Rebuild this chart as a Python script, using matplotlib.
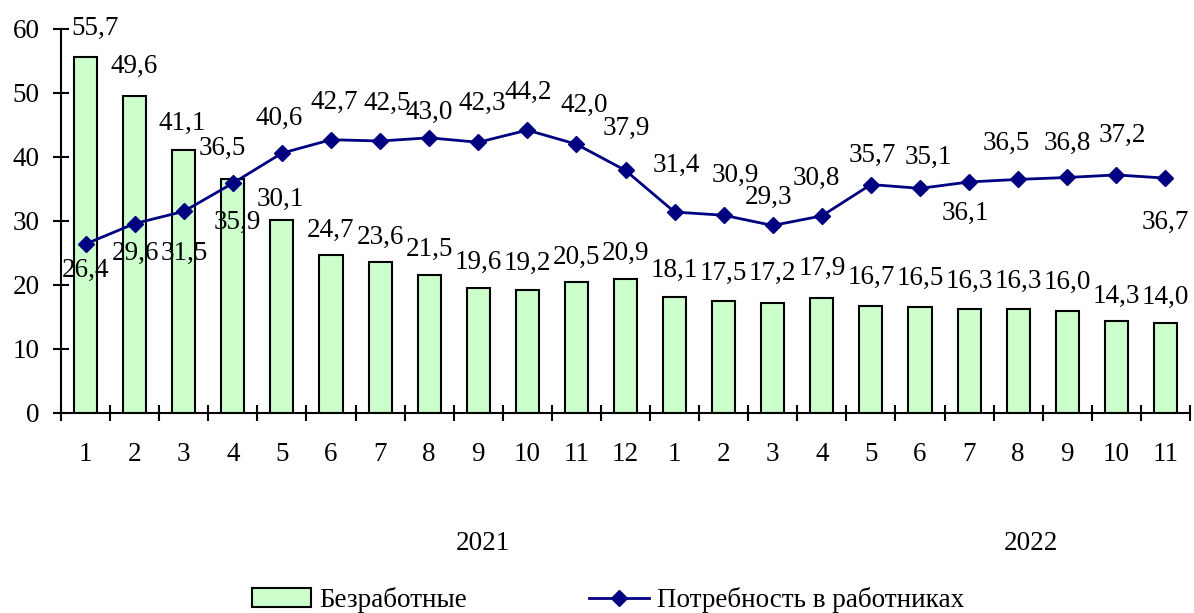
import numpy as np
import matplotlib
matplotlib.use('Agg')
import matplotlib.pyplot as plt
from matplotlib.ticker import FixedLocator, NullFormatter

plt.rcParams['font.family'] = ['Liberation Serif', 'DejaVu Serif']

# data
months = ['1', '2', '3', '4', '5', '6', '7', '8', '9', '10', '11', '12',
          '1', '2', '3', '4', '5', '6', '7', '8', '9', '10', '11']
years = ['2021', '2022']
unemployed = [55.7, 49.6, 41.1, 36.5, 30.1, 24.7, 23.6, 21.5, 19.6, 19.2, 20.5, 20.9,
              18.1, 17.5, 17.2, 17.9, 16.7, 16.5, 16.3, 16.3, 16.0, 14.3, 14.0]
demand = [26.4, 29.6, 31.5, 35.9, 40.6, 42.7, 42.5, 43.0, 42.3, 44.2, 42.0, 37.9,
          31.4, 30.9, 29.3, 30.8, 35.7, 35.1, 36.1, 36.5, 36.8, 37.2, 36.7]
series_names = ['Безработные', 'Потребность в работниках']

# label placement tweaks (pixels, x right / y up)
bar_lab_dx = [10, 0, -2, -10, -2, 0, 0, 0, 0, 0, 0, 0,
              0, 0, 0, 0, 0, 0, 0, 0, 0, 0, 0]
bar_lab_dy = [28, 29, 27, 31, 21, 25, 25, 26, 25, 27, 24, 26,
              27, 28, 30, 30, 29, 29, 27, 27, 28, 25, 26]
line_lab_dx = [0, 1, 1, 5, -3, 3, 7, 0, 4, 1, 8, 1,
               2, 12, -4, -6, 1, 8, -4, -12, 0, 6, 0]
line_lab_dy = [-26, -30, -42, -39, 35, 37, 38, 25, 39, 38, 39, 42,
               47, 40, 28, 37, 29, 31, -31, 36, 34, 40, -44]

FS = 19.5


def fmt(v):
    return ('%.1f' % v).replace('.', ',')


fig = plt.figure(figsize=(11.94, 6.13), dpi=100)
ax = fig.add_axes([61 / 1194, 1 - 413 / 613, 1129 / 1194, 384 / 613])

x = np.arange(len(months))
bars = ax.bar(x, unemployed, width=0.47, color='#CCFFCC', edgecolor='black', linewidth=1.5,
              zorder=2)
line, = ax.plot(x, demand, color='#000080', lw=2, marker='D', ms=8, zorder=3)

for i in range(len(x)):
    ax.annotate(fmt(unemployed[i]), (x[i], unemployed[i]),
                xytext=(bar_lab_dx[i], bar_lab_dy[i]), textcoords='offset pixels',
                ha='center', va='center', fontsize=FS)
    ax.annotate(fmt(demand[i]), (x[i], demand[i]),
                xytext=(line_lab_dx[i], line_lab_dy[i]), textcoords='offset pixels',
                ha='center', va='center', fontsize=FS)

ax.set_xlim(-0.5, len(x) - 0.5)
ax.set_ylim(0, 60)
ax.set_yticks(range(0, 61, 10))
ax.xaxis.set_major_locator(FixedLocator(np.arange(len(x) + 1) - 0.5))
ax.xaxis.set_major_formatter(NullFormatter())
ax.xaxis.set_minor_locator(FixedLocator(x))
ax.set_xticklabels(months, minor=True)
ax.tick_params(axis='x', which='major', direction='inout', length=11, width=1.5)
ax.tick_params(axis='x', which='minor', length=0, pad=21, labelsize=FS)
ax.tick_params(axis='y', direction='inout', length=11, width=1.5, pad=10, labelsize=FS)
for s in ['top', 'right']:
    ax.spines[s].set_visible(False)
for s in ['left', 'bottom']:
    ax.spines[s].set_linewidth(1.5)

fig.text(483 / 1194, 1 - 544 / 613, years[0], ha='center', va='center', fontsize=FS)
fig.text(1031 / 1194, 1 - 544 / 613, years[1], ha='center', va='center', fontsize=FS)

fig.legend([bars, line], series_names, loc='center',
           bbox_to_anchor=(608 / 1194, 1 - 600 / 613), ncol=2,
           frameon=False, fontsize=FS, columnspacing=4.5, handletextpad=0.3,
           handlelength=2.2)

fig.savefig('out.png', dpi=100, facecolor='white')
